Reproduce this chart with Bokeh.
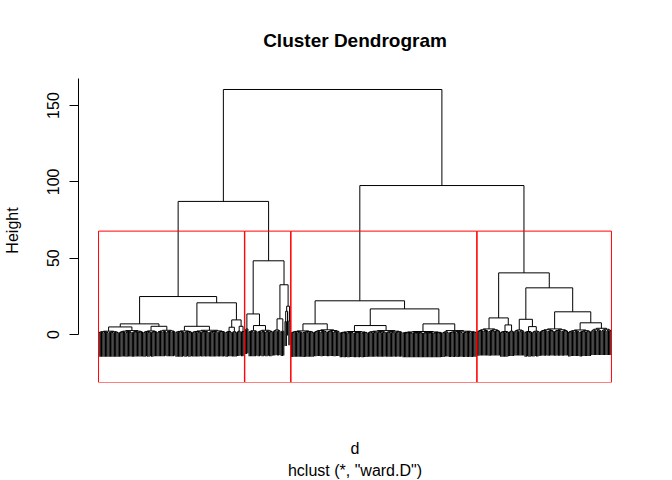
from bokeh.plotting import figure
from bokeh.models import Range1d, FixedTicker, Title
from bokeh.embed import file_html
from bokeh.resources import INLINE

# ---- data -----------------------------------------------------------------
# merge = [height, left, right]; (n, h) = a bundle of n leaves whose top merge is at h;
# 1 = a single leaf
CLUSTER_1 = [24.9,
             [7.0, [5.0, (16, 2.2), (19, 2.6)], [5.4, (11, 2.4), (14, 2.8)]],
             [20.8, [5.4, (13, 2.4), (26, 2.8)],
              [9.6, [4.8, (5, 2.0), (4, 1.8)], [5.4, (3, 2.2), (3, 2.0)]]]]
CLUSTER_2 = [48.3,
             [13.5, (3, 3.7), [5.9, (7, 2.5), (12, 2.8)]],
             [32.6, [10.3, (6, 3.0), (3, 2.2)],
              [18.6, [15.3, [8.5, 1, 1], 1], [9.0, 1, 1]]]]
CLUSTER_3 = [22.1,
             [7.0, (18, 2.4), (20, 3.1)],
             [16.8, [5.9, (22, 2.0), (27, 2.6)],
              [7.0, (31, 2.0), [2.6, (5, 1.8), (22, 2.2)]]]]
CLUSTER_4 = [40.4,
             [10.9, (18, 3.7), [6.3, (7, 2.0), (4, 2.2)]],
             [30.6, [10.0, (8, 3.0), [5.2, (6, 2.0), (6, 2.2)]],
              [14.9, (22, 3.7), [7.7, (18, 3.0), (16, 4.1)]]]]
LEFT_HEIGHT = 87.2
RIGHT_HEIGHT = 97.6
ROOT_HEIGHT = 160.5
# share of a bundle's top height at each depth inside the bundle
BUNDLE_LEVELS = [1.0, 0.85, 0.72, 0.62, 0.54, 0.48, 0.44, 0.40]
K_CLUSTERS = 4
HANG_FRACTION = 0.1
Y_LIMITS = (-31.4, 167.7)
Y_TICKS = [0, 50, 100, 150, 200]

TITLE = "Cluster Dendrogram"
Y_LABEL = "Height"
X_LABEL = "d"
SUB_LABEL = 'hclust (*, "ward.D")'
FONT = "Liberation Sans"


# ---- tree building ----------------------------------------------------------
def expand(node):
    if node == 1:
        return 1
    if isinstance(node, tuple):
        n, h = node
        return expand_bundle(n, h, 0)
    h, l, r = node
    return [h, expand(l), expand(r)]


def expand_bundle(n, top, depth):
    if n == 1:
        return 1
    a = (n + 1) // 2
    b = n - a
    h = top * BUNDLE_LEVELS[min(depth, len(BUNDLE_LEVELS) - 1)]
    return [h, expand_bundle(a, top, depth + 1), expand_bundle(b, top, depth + 1)]


clusters = [expand(c) for c in (CLUSTER_1, CLUSTER_2, CLUSTER_3, CLUSTER_4)]
tree = [ROOT_HEIGHT, [LEFT_HEIGHT, clusters[0], clusters[1]],
        [RIGHT_HEIGHT, clusters[2], clusters[3]]]


def heights_of(node, out):
    if node == 1:
        return out
    out.append(node[0])
    heights_of(node[1], out)
    heights_of(node[2], out)
    return out


def n_leaves(node):
    return 1 if node == 1 else n_leaves(node[1]) + n_leaves(node[2])


all_h = heights_of(tree, [])
HANG = HANG_FRACTION * (max(all_h) - min(all_h))
N = n_leaves(tree)

# branch segments (horizontal bars + verticals to sub-merges) and leaf segments
bx0, by0, bx1, by1 = [], [], [], []
lx, ly0, ly1 = [], [], []
counter = [0]


def place(node):
    if node == 1:
        counter[0] += 1
        return float(counter[0]), None
    h, l, r = node
    xl, hl = place(l)
    xr, hr = place(r)
    bx0.append(xl); by0.append(h); bx1.append(xr); by1.append(h)
    for xc, hc in ((xl, hl), (xr, hr)):
        if hc is None:
            lx.append(xc); ly0.append(h - HANG); ly1.append(h)
        else:
            bx0.append(xc); by0.append(hc); bx1.append(xc); by1.append(h)
    return (xl + xr) / 2.0, h


place(tree)

# rect.hclust boxes
sizes = [n_leaves(c) for c in clusters]
bounds = [0]
for s in sizes:
    bounds.append(bounds[-1] + s)
desc = sorted(all_h, reverse=True)
rect_top = (desc[K_CLUSTERS - 2] + desc[K_CLUSTERS - 1]) / 2.0
r_left = [bounds[i] + 0.66 for i in range(K_CLUSTERS)]
r_right = [bounds[i + 1] + 0.33 for i in range(K_CLUSTERS)]

# ---- figure -------------------------------------------------------------------
pad = 0.04 * (N - 1)
p = figure(width=672, height=480, output_backend="svg", toolbar_location=None,
           x_range=Range1d(1 - pad, N + pad), y_range=Range1d(*Y_LIMITS),
           min_border_left=78, min_border_right=41, min_border_top=78, min_border_bottom=98)
p.outline_line_color = None
p.grid.visible = False
p.background_fill_color = "white"
p.border_fill_color = "white"

p.segment(x0=lx, y0=ly0, x1=lx, y1=ly1, line_color="black", line_width=1.2)
p.segment(x0=bx0, y0=by0, x1=bx1, y1=by1, line_color="black", line_width=1)
p.quad(left=r_left, right=r_right, bottom=[Y_LIMITS[0]] * K_CLUSTERS,
       top=[rect_top] * K_CLUSTERS, fill_alpha=0, line_color="#ff0000", line_width=1)

ax = p.yaxis[0]
ax.ticker = FixedTicker(ticks=Y_TICKS)
ax.bounds = (Y_TICKS[0], Y_TICKS[-1])
ax.major_label_orientation = "vertical"
ax.major_tick_out = 9
ax.major_tick_in = 0
ax.minor_tick_line_color = None
ax.major_label_standoff = 10
ax.major_label_text_font = FONT
ax.major_label_text_font_size = "16px"
ax.major_label_text_color = "black"
ax.axis_line_color = "black"
ax.major_tick_line_color = "black"
ax.axis_label = Y_LABEL
ax.axis_label_text_font = FONT
ax.axis_label_text_font_size = "16px"
ax.axis_label_text_font_style = "normal"
ax.axis_label_text_color = "black"
ax.axis_label_standoff = 24

# x axis: no ticks or line, only its title "d"
xa = p.xaxis[0]
xa.ticker = FixedTicker(ticks=[])
xa.axis_line_color = None
xa.major_tick_line_color = None
xa.minor_tick_line_color = None
xa.major_tick_out = 0
xa.major_label_standoff = 0
xa.major_label_text_font_size = "0px"
xa.axis_label = X_LABEL
xa.axis_label_text_font = FONT
xa.axis_label_text_font_size = "16px"
xa.axis_label_text_font_style = "normal"
xa.axis_label_text_color = "black"
xa.axis_label_standoff = 57

p.title.text = TITLE
p.title.align = "center"
p.title.text_font = FONT
p.title.text_font_size = "19px"
p.title.text_font_style = "bold"
p.title.text_color = "black"
p.title.standoff = 55

p.add_layout(Title(text=SUB_LABEL, align="center", text_font=FONT, text_font_size="16px",
                   text_font_style="normal", text_color="black", standoff=0), "below")

open("out.html", "w").write(file_html(p, INLINE))
